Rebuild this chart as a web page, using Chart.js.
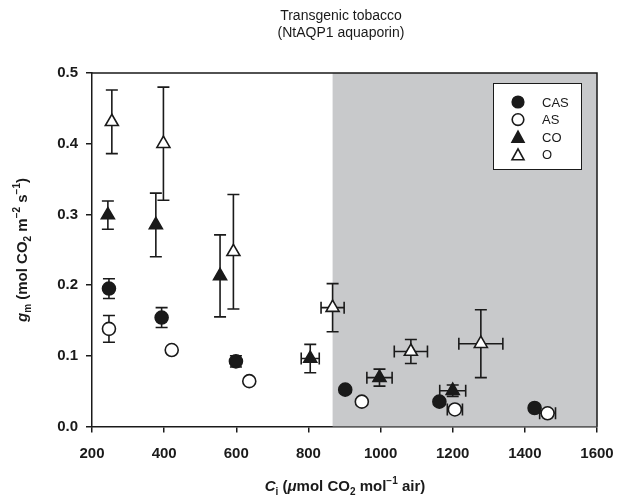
<!DOCTYPE html>
<html>
<head>
<meta charset="utf-8">
<script src="https://cdn.jsdelivr.net/npm/chart.js@4"></script>
<style>
  html, body { margin: 0; padding: 0; background: #fff; }
  #wrap { width: 622px; height: 500px; }
</style>
</head>
<body>
<div id="wrap"><canvas id="myChart"></canvas></div>
<script>
// values
const casX = [247, 393, 599, 902, 1163, 1427];
const casY = [0.195, 0.154, 0.092, 0.052, 0.035, 0.026];
const casYErr = [0.014, 0.014, 0.008, 0, 0, 0];
const casXErr = [0, 0, 0, 0, 0, 0];

const asX = [247, 421, 636, 948, 1206, 1463];
const asY = [0.138, 0.108, 0.064, 0.035, 0.024, 0.0185];
const asYErr = [0.019, 0, 0, 0, 0, 0];
const asXErr = [0, 0, 0, 0, 21, 22];

const coX = [244, 377, 555, 805, 997, 1200];
const coY = [0.299, 0.285, 0.213, 0.096, 0.069, 0.0505];
const coYErr = [0.02, 0.045, 0.058, 0.02, 0.012, 0.008];
const coXErr = [0, 0, 0, 25, 35, 36];

const oX = [255, 398, 592, 867, 1084, 1278];
const oY = [0.431, 0.400, 0.247, 0.168, 0.106, 0.117];
const oYErr = [0.045, 0.08, 0.081, 0.034, 0.017, 0.048];
const oXErr = [0, 0, 0, 32, 46, 61];

const shadeFrom = 867;
const shadeTo = 1600;

const xTicks = [200, 400, 600, 800, 1000, 1200, 1400, 1600];
const yTicks = [0.0, 0.1, 0.2, 0.3, 0.4, 0.5];

const INK = '#1a1a1a';
const FONT = '"Liberation Sans", Arial, sans-serif';

function pts(xs, ys) {
  return xs.map((x, i) => ({ x: x, y: ys[i] }));
}

function series(label, xs, ys, xe, ye, style, filled) {
  return {
    label: label,
    data: pts(xs, ys),
    xErr: xe,
    yErr: ye,
    pointStyle: style,
    pointRadius: style === 'triangle' ? 7.5 : 6.5,
    pointBackgroundColor: filled ? INK : '#fff',
    pointBorderColor: INK,
    pointBorderWidth: 1.6,
    showLine: false,
  };
}

// draws text made of pieces (sub/superscripts, italics)
function richText(c, parts, x, y) {
  let w = 0;
  parts.forEach(p => { c.font = p.f; w += c.measureText(p.t).width; });
  let cx = x - w / 2;
  parts.forEach(p => {
    c.font = p.f;
    c.fillText(p.t, cx, y + (p.dy || 0));
    cx += c.measureText(p.t).width;
  });
}

const B = 'bold 15px ' + FONT;
const BI = 'italic bold 15px ' + FONT;
const S = 'bold 10px ' + FONT;

const extras = {
  id: 'extras',
  beforeDatasetsDraw(chart) {
    const c = chart.ctx;
    const xs = chart.scales.x, ys = chart.scales.y;
    const a = chart.chartArea;
    c.save();
    // shaded region
    c.fillStyle = '#c8c9cb';
    const x0 = xs.getPixelForValue(shadeFrom), x1 = xs.getPixelForValue(shadeTo);
    c.fillRect(x0, a.top, x1 - x0, a.bottom - a.top);
    // error bars
    c.strokeStyle = INK;
    c.lineWidth = 1.6;
    const cap = 6;
    chart.data.datasets.forEach(ds => {
      ds.data.forEach((p, i) => {
        const px = xs.getPixelForValue(p.x), py = ys.getPixelForValue(p.y);
        const ye = ds.yErr[i], xe = ds.xErr[i];
        if (ye > 0) {
          const t = ys.getPixelForValue(p.y + ye), b = ys.getPixelForValue(p.y - ye);
          c.beginPath();
          c.moveTo(px, t); c.lineTo(px, b);
          c.moveTo(px - cap, t); c.lineTo(px + cap, t);
          c.moveTo(px - cap, b); c.lineTo(px + cap, b);
          c.stroke();
        }
        if (xe > 0) {
          const l = xs.getPixelForValue(p.x - xe), r = xs.getPixelForValue(p.x + xe);
          c.beginPath();
          c.moveTo(l, py); c.lineTo(r, py);
          c.moveTo(l, py - cap); c.lineTo(l, py + cap);
          c.moveTo(r, py - cap); c.lineTo(r, py + cap);
          c.stroke();
        }
      });
    });
    c.restore();
  },
  afterDraw(chart) {
    const c = chart.ctx;
    const a = chart.chartArea;
    c.save();
    // frame top and right
    c.strokeStyle = INK;
    c.lineWidth = 1.5;
    c.beginPath();
    c.moveTo(a.left, a.top); c.lineTo(a.right, a.top); c.lineTo(a.right, a.bottom);
    c.stroke();

    // legend box
    c.fillStyle = '#fff';
    c.fillRect(493, 83, 89, 87);
    c.lineWidth = 1;
    c.strokeRect(493.5, 83.5, 88, 86);
    c.font = '13px ' + FONT;
    c.textBaseline = 'middle';
    chart.data.datasets.forEach((ds, i) => {
      const ly = 102 + i * 17.6;
      c.fillStyle = ds.pointBackgroundColor;
      c.strokeStyle = INK;
      c.lineWidth = 1.6;
      c.beginPath();
      if (ds.pointStyle === 'circle') {
        c.arc(518, ly, 5.8, 0, Math.PI * 2);
      } else {
        c.moveTo(518, ly - 6); c.lineTo(524, ly + 5); c.lineTo(512, ly + 5); c.closePath();
      }
      c.fill(); c.stroke();
      c.fillStyle = INK;
      c.textAlign = 'left';
      c.fillText(ds.label, 542, ly + 1);
    });

    // chart title
    c.fillStyle = INK;
    c.textAlign = 'center';
    c.textBaseline = 'middle';
    c.font = '14px ' + FONT;
    c.fillText('Transgenic tobacco', 341, 16);
    c.fillText('(NtAQP1 aquaporin)', 341, 33);

    // axis titles
    c.textAlign = 'left';
    c.textBaseline = 'alphabetic';
    richText(c, [
      { t: 'C', f: BI }, { t: 'i', f: S, dy: 4 }, { t: ' (', f: B }, { t: 'μ', f: BI },
      { t: 'mol CO', f: B }, { t: '2', f: S, dy: 4 }, { t: ' mol', f: B },
      { t: '−1', f: S, dy: -7 }, { t: ' air)', f: B }
    ], 345, 491);
    c.translate(27, 250);
    c.rotate(-Math.PI / 2);
    richText(c, [
      { t: 'g', f: BI }, { t: 'm', f: S, dy: 4 }, { t: ' (mol CO', f: B }, { t: '2', f: S, dy: 4 },
      { t: ' m', f: B }, { t: '−2', f: S, dy: -7 }, { t: ' s', f: B }, { t: '−1', f: S, dy: -7 },
      { t: ')', f: B }
    ], 0, 0);
    c.restore();
  }
};

const ctx = document.getElementById('myChart');

const myChart = new Chart(ctx, {
  type: 'scatter',
  data: {
    datasets: [
      series('CAS', casX, casY, casXErr, casYErr, 'circle', true),
      series('AS', asX, asY, asXErr, asYErr, 'circle', false),
      series('CO', coX, coY, coXErr, coYErr, 'triangle', true),
      series('O', oX, oY, oXErr, oYErr, 'triangle', false),
    ]
  },
  options: {
    responsive: true,
    maintainAspectRatio: false,
    animation: false,
    layout: { padding: { left: 0, right: 25, top: 73, bottom: 28.6 } },
    plugins: {
      legend: { display: false },
      tooltip: { enabled: false },
    },
    scales: {
      x: {
        type: 'linear',
        min: xTicks[0],
        max: xTicks[xTicks.length - 1],
        afterFit: s => { s.height = 45; s.paddingLeft = 0; s.paddingRight = 0; },
        afterBuildTicks: s => { s.ticks = xTicks.map(v => ({ value: v })); },
        ticks: {
          padding: 12,
          color: INK,
          font: { family: FONT, size: 15, weight: 'bold' },
          callback: v => String(v),
        },
        grid: { drawOnChartArea: false, drawTicks: true, tickLength: 6, color: INK, lineWidth: 1.5 },
        border: { color: INK, width: 1.5 },
      },
      y: {
        type: 'linear',
        min: 0,
        max: 0.5,
        afterFit: s => { s.width = 92; s.paddingTop = 0; s.paddingBottom = 0; },
        afterBuildTicks: s => { s.ticks = yTicks.map(v => ({ value: v })); },
        ticks: {
          padding: 8,
          color: INK,
          font: { family: FONT, size: 15, weight: 'bold' },
          callback: v => v.toFixed(1),
        },
        grid: { drawOnChartArea: false, drawTicks: true, tickLength: 6, color: INK, lineWidth: 1.5 },
        border: { color: INK, width: 1.5 },
      }
    }
  },
  plugins: [extras]
});
</script>
</body>
</html>
